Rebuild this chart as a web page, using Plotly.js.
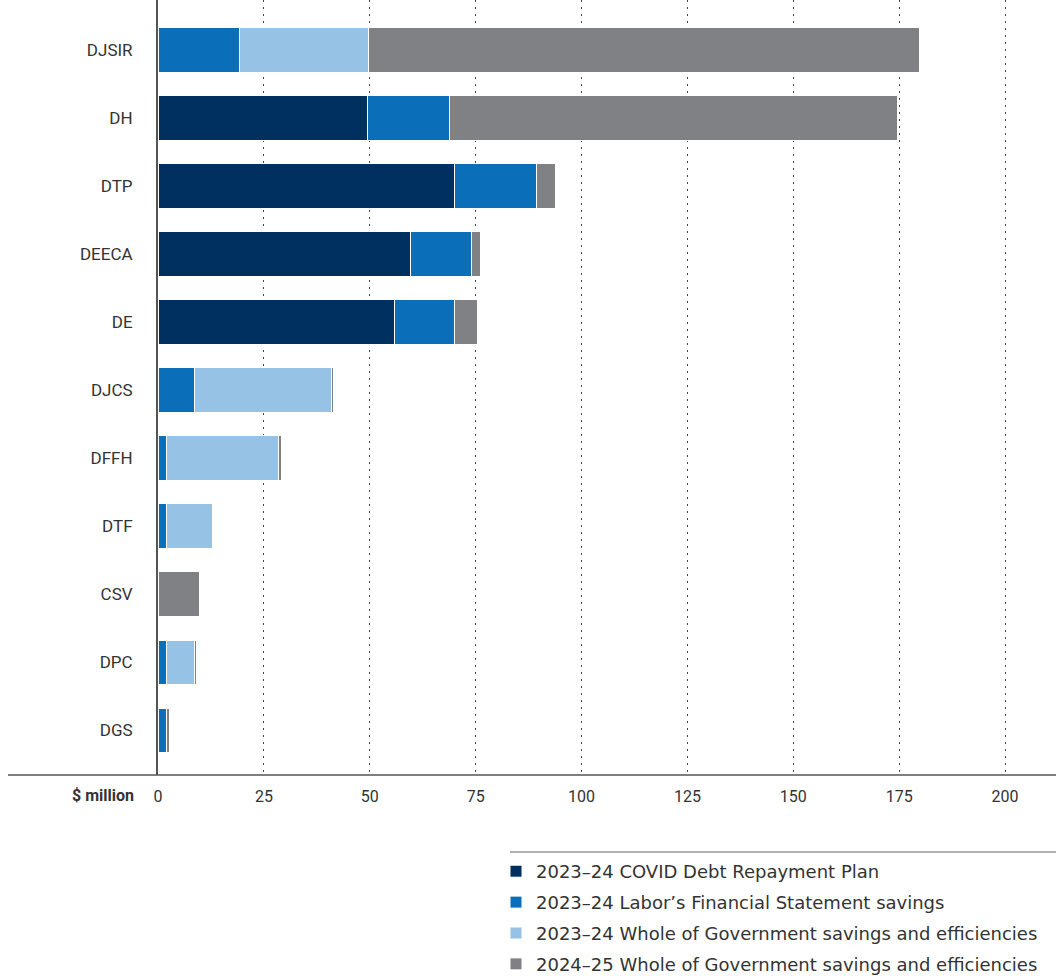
<!DOCTYPE html>
<html>
<head>
<meta charset="utf-8">
<script src="https://cdn.plot.ly/plotly-3.0.1.min.js"></script>
<style>html,body{margin:0;padding:0;background:#fff;}#chart{width:1056px;height:976px;}</style>
</head>
<body>
<div id="chart"></div>
<script>
const categories = ["DJSIR","DH","DTP","DEECA","DE","DJCS","DFFH","DTF","CSV","DPC","DGS"];
const covidDebt   = [0, 49.5, 70.0, 59.7, 55.9, 0, 0, 0, 0, 0, 0];
const laborSavings = [19.3, 19.3, 19.3, 14.4, 14.2, 8.5, 2.1, 2.1, 0, 1.9, 2.1];
const wog2324     = [30.4, 0, 0, 0, 0, 32.5, 26.4, 10.8, 0, 6.8, 0];
const wog2425     = [130.0, 105.9, 4.5, 2.1, 5.4, 0.5, 0.7, 0.3, 9.9, 0.5, 0.6];
const seriesNames = [
  "2023–24 COVID Debt Repayment Plan",
  "2023–24 Labor’s Financial Statement savings",
  "2023–24 Whole of Government savings and efficiencies",
  "2024–25 Whole of Government savings and efficiencies"
];
const xTicks = [0,25,50,75,100,125,150,175,200];

const colors = ["#00305f","#0a6fb8","#96c2e6","#808184"];
const values = [covidDebt, laborSavings, wog2324, wog2425];

const traces = values.map((v,i)=>({
  type:'bar', orientation:'h', x:v, y:categories, name:seriesNames[i],
  legendgroup:'g'+i,
  marker:{color:colors[i], line:{color:'#ffffff', width:1}},
  hoverinfo:'x+name'
}));

const L = 158, W = 1056 - L, H = 775;
const layout = {
  width:1056, height:976,
  margin:{l:L, r:0, t:0, b:976-H, pad:0, autoexpand:false},
  barmode:'stack', bargap:0.35,
  paper_bgcolor:'#fff', plot_bgcolor:'#fff',
  font:{family:'Roboto, Liberation Sans, Arial, sans-serif', color:'#333', size:16},
  xaxis:{
    range:[0, W/4.235], tickvals:xTicks, ticktext:xTicks.map(String),
    showgrid:true, gridcolor:'#444', griddash:'2px,5px', gridwidth:1,
    zeroline:false, showline:false, ticks:'outside', ticklen:7, tickcolor:'rgba(0,0,0,0)',
    tickfont:{size:16, color:'#333'}, fixedrange:true
  },
  yaxis:{
    type:'category', categoryorder:'array', categoryarray:categories,
    range:[10.66, -0.735],
    showline:true, linecolor:'#555', linewidth:2,
    ticks:'outside', ticklen:20, tickcolor:'rgba(0,0,0,0)',
    tickfont:{size:17, color:'#333'}, showgrid:false, zeroline:false, fixedrange:true
  },
  showlegend:true,
  legend:{
    x:(496-L)/W, xanchor:'left', y:(H-853)/H, yanchor:'top',
    traceorder:'grouped', tracegroupgap:4.5,
    font:{family:'DejaVu Sans, sans-serif', size:18, color:'#333'},
    bgcolor:'rgba(0,0,0,0)', itemclick:false, itemdoubleclick:false
  },
  shapes:[
    {type:'line', xref:'paper', yref:'paper', x0:(8-L)/W, x1:1, y0:0, y1:0,
     line:{color:'#555', width:1.5}},
    {type:'line', xref:'paper', yref:'paper', x0:(510-L)/W, x1:1, y0:(H-852)/H, y1:(H-852)/H,
     line:{color:'#999', width:1.5}}
  ],
  annotations:[
    {xref:'paper', yref:'paper', x:(136-L)/W, y:(H-795)/H, xanchor:'right', yanchor:'middle',
     text:'<b>$ million</b>', showarrow:false, font:{size:16, color:'#333'}}
  ]
};

Plotly.newPlot('chart', traces, layout, {displayModeBar:false});
</script>
</body>
</html>
